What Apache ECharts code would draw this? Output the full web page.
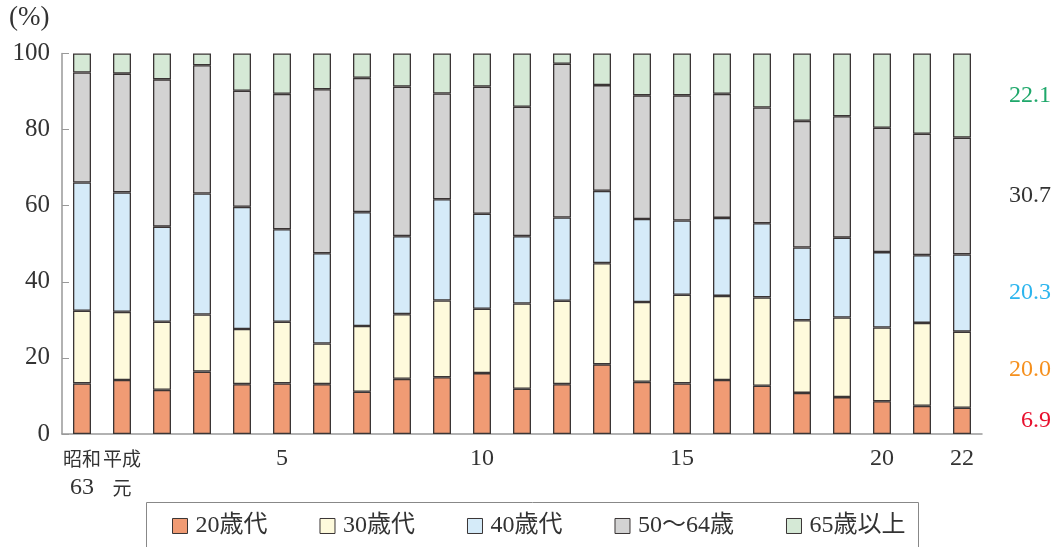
<!DOCTYPE html>
<html>
<head>
<meta charset="utf-8">
<script src="https://cdn.jsdelivr.net/npm/echarts@6/dist/echarts.min.js"></script>
<style>html,body{margin:0;padding:0;background:#fff;}#c{width:1056px;height:547px;}</style>
</head>
<body>
<div id="c"></div>
<script>
const categories = ['昭和\n63','平成\n元','2','3','4','5','6','7','8','9','10','11','12','13','14','15','16','17','18','19','20','21','22'];
const shownLabels = ['昭和\n63','平成\n元','5','10','15','20','22'];
const seriesNames = ['20歳代','30歳代','40歳代','50～64歳','65歳以上'];
const age20s = [13.3,14.2,11.6,16.4,13.1,13.3,13.1,11.1,14.5,14.9,16.0,11.9,13.1,18.3,13.7,13.3,14.2,12.7,10.8,9.7,8.6,7.4,6.9];
const age30s = [19.1,17.9,17.9,15.0,14.5,16.2,10.7,17.3,17.0,20.2,16.9,22.4,21.9,26.6,21.0,23.3,22.1,23.2,19.1,20.9,19.4,21.8,20.0];
const age40s = [33.7,31.4,25.0,31.8,32.1,24.3,23.7,29.9,20.5,26.6,25.0,17.7,21.9,19.0,21.8,19.5,20.5,19.5,19.1,21.0,19.8,17.8,20.3];
const age50to64 = [28.9,31.2,38.7,33.7,30.5,35.6,43.1,35.3,39.3,27.8,33.4,34.0,40.4,27.8,32.5,32.9,32.6,30.4,33.3,31.9,32.7,31.9,30.7];
const age65plus = [5.0,5.3,6.8,3.1,9.8,10.6,9.4,6.4,8.7,10.5,8.7,14.0,2.7,8.3,11.0,11.0,10.6,14.2,17.7,16.5,19.5,21.1,22.1];
const yTicks = [0,20,40,60,80,100];

const fills = ['#f09b74','#fefadc','#d5ebf9','#d3d3d3','#d5e9d6'];
const labelColors = ['#e8102e','#f5901e','#2cb5ee','#333333','#1fa86b'];
const values = [age20s, age30s, age40s, age50to64, age65plus];
const serif = "'Liberation Serif','Noto Sans CJK JP',serif";
const cjk = "'Noto Sans CJK JP',sans-serif";
const last = categories.length - 1;

// wrap CJK runs in rich style so they render narrower like the original
const richify = s => s.replace(/([\u3000-\u9fff\uff00-\uffef]+)/g, '{c|$1}');

const series = values.map((arr, si) => ({
  name: seriesNames[si],
  type: 'bar',
  stack: 'total',
  barWidth: 18,
  itemStyle: { color: fills[si], borderColor: '#3a3535', borderWidth: 1.3 },
  data: arr.map((v, i) => i === last ? {
    value: v,
    label: {
      show: true, position: 'right', distance: 80, align: 'right',
      color: labelColors[si], fontFamily: serif, fontSize: 24,
      formatter: p => p.value.toFixed(1)
    }
  } : v),
  emphasis: { disabled: true },
  animation: false
}));

const chart = echarts.init(document.getElementById('c'), null, { renderer: 'canvas' });
chart.setOption({
  animation: false,
  grid: { left: 62, right: 74, top: 53.5, bottom: 113 },
  graphic: [
    { type: 'text', left: 9, top: 4, style: { text: '(%)', font: "27px 'Liberation Serif'", fill: '#333' } },
    { type: 'rect', shape: { x: 146.5, y: 502.5, width: 772, height: 60 }, style: { fill: 'none', stroke: '#888', lineWidth: 1 }, silent: true }
  ],
  legend: {
    left: 167, top: 509, itemWidth: 15, itemHeight: 15, itemGap: 52,
    icon: 'rect',
    textStyle: { fontFamily: serif, fontSize: 24, color: '#333', padding: [0,0,0,3] },
    itemStyle: { borderColor: '#3a3535', borderWidth: 1 },
    data: seriesNames
  },
  xAxis: {
    type: 'category', data: categories,
    axisLine: { lineStyle: { color: '#999', width: 1.5 } },
    axisTick: { show: false },
    axisLabel: {
      interval: 0, margin: 10, color: '#333', fontFamily: serif, fontSize: 24, lineHeight: 29,
      formatter: v => shownLabels.includes(v) ? richify(v) : '',
      rich: { c: { fontFamily: cjk, fontSize: 19, lineHeight: 29, color: '#333' } }
    }
  },
  yAxis: {
    type: 'value', min: 0, max: 100, interval: 20,
    axisLine: { show: true, lineStyle: { color: '#999', width: 1.5 } },
    axisTick: { show: true, inside: true, length: 7, lineStyle: { color: '#999' } },
    splitLine: { show: false },
    axisLabel: { color: '#333', fontFamily: serif, fontSize: 25, margin: 12,
      formatter: v => yTicks.includes(v) ? String(v) : '' }
  },
  series
});
</script>
</body>
</html>
